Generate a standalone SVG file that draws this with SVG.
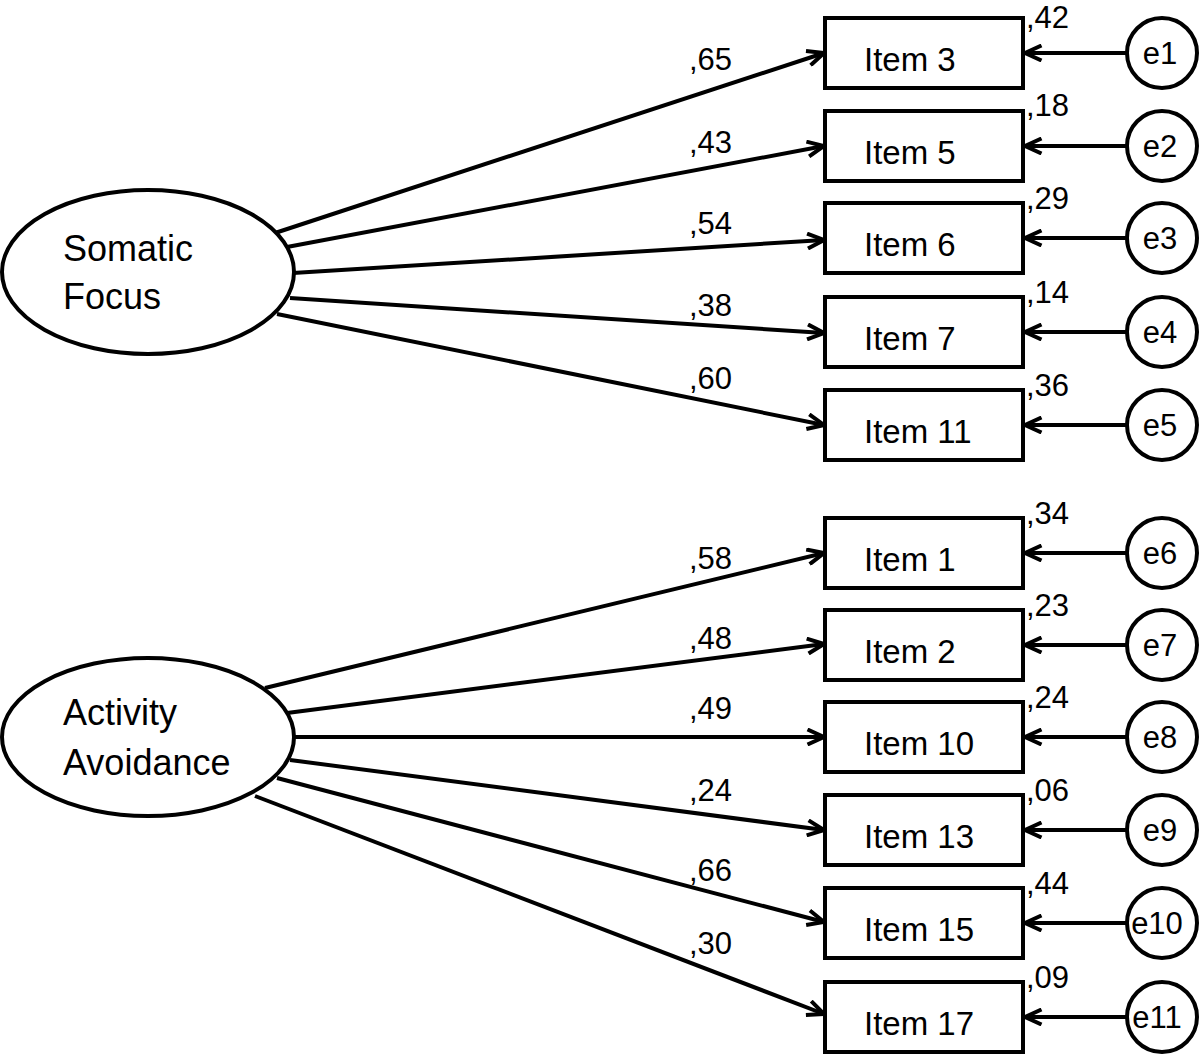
<svg xmlns="http://www.w3.org/2000/svg" width="1200" height="1054" viewBox="0 0 1200 1054">
<style>
  .shape{fill:#fff;stroke:#000;stroke-width:4}
  .conn line{stroke:#000;stroke-width:4}
  text{font-family:"Liberation Sans",Arial,sans-serif;fill:#000}
  .lat{font-size:36px}
  .item{font-size:33px}
  .lbl{font-size:31px}
  .err{font-size:31px;text-anchor:middle}
</style>
<defs>
  <marker id="arr" viewBox="0 0 20 18" refX="18" refY="9" markerWidth="20" markerHeight="18" markerUnits="userSpaceOnUse" orient="auto">
    <path d="M1.5,1.5 L18,9 L1.5,16.5" fill="none" stroke="#000" stroke-width="4" stroke-linejoin="miter"/>
  </marker>
</defs>

<g id="connectors" class="conn">
  <line x1="275" y1="233" x2="824" y2="53" marker-end="url(#arr)"/>
  <line x1="287" y1="247" x2="824" y2="146" marker-end="url(#arr)"/>
  <line x1="293" y1="273" x2="824" y2="240" marker-end="url(#arr)"/>
  <line x1="290" y1="298" x2="824" y2="333" marker-end="url(#arr)"/>
  <line x1="277" y1="314" x2="824" y2="425" marker-end="url(#arr)"/>
  <line x1="265" y1="688" x2="824" y2="553" marker-end="url(#arr)"/>
  <line x1="287" y1="713" x2="824" y2="644" marker-end="url(#arr)"/>
  <line x1="292" y1="737" x2="824" y2="737" marker-end="url(#arr)"/>
  <line x1="290" y1="760" x2="824" y2="830" marker-end="url(#arr)"/>
  <line x1="277" y1="778" x2="824" y2="922" marker-end="url(#arr)"/>
  <line x1="255" y1="796" x2="824" y2="1014" marker-end="url(#arr)"/>
  <line x1="1127" y1="53" x2="1025" y2="53" marker-end="url(#arr)"/>
  <line x1="1127" y1="146" x2="1025" y2="146" marker-end="url(#arr)"/>
  <line x1="1127" y1="238" x2="1025" y2="238" marker-end="url(#arr)"/>
  <line x1="1127" y1="332" x2="1025" y2="332" marker-end="url(#arr)"/>
  <line x1="1127" y1="425" x2="1025" y2="425" marker-end="url(#arr)"/>
  <line x1="1127" y1="553" x2="1025" y2="553" marker-end="url(#arr)"/>
  <line x1="1127" y1="645" x2="1025" y2="645" marker-end="url(#arr)"/>
  <line x1="1127" y1="737" x2="1025" y2="737" marker-end="url(#arr)"/>
  <line x1="1127" y1="830" x2="1025" y2="830" marker-end="url(#arr)"/>
  <line x1="1127" y1="923" x2="1025" y2="923" marker-end="url(#arr)"/>
  <line x1="1127" y1="1017" x2="1025" y2="1017" marker-end="url(#arr)"/>
</g>

<g id="loadings" class="lbl">
  <text x="689" y="70">,65</text>
  <text x="689" y="153">,43</text>
  <text x="689" y="234">,54</text>
  <text x="689" y="316">,38</text>
  <text x="689" y="389">,60</text>
  <text x="689" y="569">,58</text>
  <text x="689" y="649">,48</text>
  <text x="689" y="719">,49</text>
  <text x="689" y="801">,24</text>
  <text x="689" y="881">,66</text>
  <text x="689" y="954">,30</text>
</g>

<g id="somatic-focus">
  <ellipse class="shape" cx="148" cy="272" rx="146" ry="82"/>
  <text class="lat" x="63" y="261">Somatic</text>
  <text class="lat" x="63" y="309">Focus</text>
</g>
<g id="activity-avoidance">
  <ellipse class="shape" cx="148" cy="737" rx="146" ry="79"/>
  <text class="lat" x="63" y="725">Activity</text>
  <text class="lat" x="63" y="775">Avoidance</text>
</g>

<g id="item3"><rect class="shape" x="825" y="18" width="198" height="70"/><text class="item" x="864" y="71">Item 3</text><text class="lbl" x="1026" y="28">,42</text></g>
<g id="item5"><rect class="shape" x="825" y="111" width="198" height="70"/><text class="item" x="864" y="164">Item 5</text><text class="lbl" x="1026" y="116">,18</text></g>
<g id="item6"><rect class="shape" x="825" y="203" width="198" height="70"/><text class="item" x="864" y="256">Item 6</text><text class="lbl" x="1026" y="209">,29</text></g>
<g id="item7"><rect class="shape" x="825" y="297" width="198" height="70"/><text class="item" x="864" y="350">Item 7</text><text class="lbl" x="1026" y="303">,14</text></g>
<g id="item11"><rect class="shape" x="825" y="390" width="198" height="70"/><text class="item" x="864" y="443">Item 11</text><text class="lbl" x="1026" y="396">,36</text></g>
<g id="item1"><rect class="shape" x="825" y="518" width="198" height="70"/><text class="item" x="864" y="571">Item 1</text><text class="lbl" x="1026" y="524">,34</text></g>
<g id="item2"><rect class="shape" x="825" y="610" width="198" height="70"/><text class="item" x="864" y="663">Item 2</text><text class="lbl" x="1026" y="616">,23</text></g>
<g id="item10"><rect class="shape" x="825" y="702" width="198" height="70"/><text class="item" x="864" y="755">Item 10</text><text class="lbl" x="1026" y="708">,24</text></g>
<g id="item13"><rect class="shape" x="825" y="795" width="198" height="70"/><text class="item" x="864" y="848">Item 13</text><text class="lbl" x="1026" y="801">,06</text></g>
<g id="item15"><rect class="shape" x="825" y="888" width="198" height="70"/><text class="item" x="864" y="941">Item 15</text><text class="lbl" x="1026" y="894">,44</text></g>
<g id="item17"><rect class="shape" x="825" y="982" width="198" height="70"/><text class="item" x="864" y="1035">Item 17</text><text class="lbl" x="1026" y="988">,09</text></g>

<g id="e1"><circle class="shape" cx="1162" cy="53" r="35"/><text class="err" x="1160" y="64">e1</text></g>
<g id="e2"><circle class="shape" cx="1162" cy="146" r="35"/><text class="err" x="1160" y="157">e2</text></g>
<g id="e3"><circle class="shape" cx="1162" cy="238" r="35"/><text class="err" x="1160" y="249">e3</text></g>
<g id="e4"><circle class="shape" cx="1162" cy="332" r="35"/><text class="err" x="1160" y="343">e4</text></g>
<g id="e5"><circle class="shape" cx="1162" cy="425" r="35"/><text class="err" x="1160" y="436">e5</text></g>
<g id="e6"><circle class="shape" cx="1162" cy="553" r="35"/><text class="err" x="1160" y="564">e6</text></g>
<g id="e7"><circle class="shape" cx="1162" cy="645" r="35"/><text class="err" x="1160" y="656">e7</text></g>
<g id="e8"><circle class="shape" cx="1162" cy="737" r="35"/><text class="err" x="1160" y="748">e8</text></g>
<g id="e9"><circle class="shape" cx="1162" cy="830" r="35"/><text class="err" x="1160" y="841">e9</text></g>
<g id="e10"><circle class="shape" cx="1162" cy="923" r="35"/><text class="err" x="1157" y="934">e10</text></g>
<g id="e11"><circle class="shape" cx="1162" cy="1017" r="35"/><text class="err" x="1157" y="1028">e11</text></g>
</svg>
